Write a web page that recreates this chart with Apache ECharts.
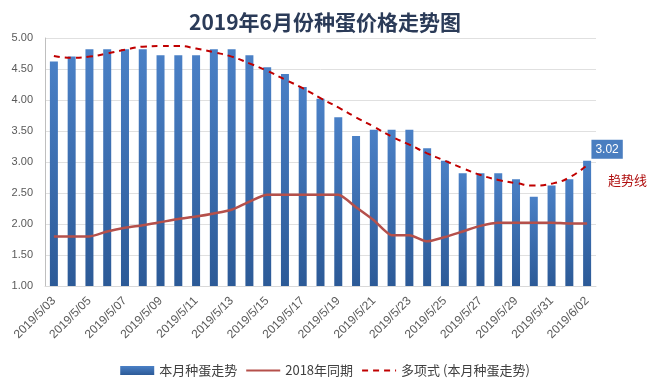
<!DOCTYPE html>
<html><head><meta charset="utf-8">
<script src="https://cdn.jsdelivr.net/npm/echarts@6/dist/echarts.min.js"></script>
<style>html,body{margin:0;padding:0;background:#fff}#c{width:650px;height:388px}</style>
</head><body><div id="c"></div>
<script>
const categories = ['2019/5/03','2019/5/04','2019/5/05','2019/5/06','2019/5/07','2019/5/08','2019/5/09','2019/5/10','2019/5/11','2019/5/12','2019/5/13','2019/5/14','2019/5/15','2019/5/16','2019/5/17','2019/5/18','2019/5/19','2019/5/20','2019/5/21','2019/5/22','2019/5/23','2019/5/24','2019/5/25','2019/5/26','2019/5/27','2019/5/28','2019/5/29','2019/5/30','2019/5/31','2019/6/01','2019/6/02'];
const thisMonth = [4.62,4.70,4.82,4.82,4.82,4.82,4.72,4.72,4.72,4.82,4.82,4.72,4.53,4.42,4.21,4.02,3.72,3.42,3.52,3.52,3.52,3.22,3.02,2.82,2.82,2.82,2.72,2.44,2.62,2.72,3.02];
const lastYear = [1.80,1.80,1.80,1.88,1.94,1.98,2.03,2.08,2.12,2.17,2.23,2.36,2.47,2.47,2.47,2.47,2.47,2.27,2.06,1.82,1.82,1.72,1.79,1.88,1.97,2.02,2.02,2.02,2.02,2.01,2.01];
const trend = [4.71,4.68,4.70,4.75,4.81,4.86,4.87,4.87,4.83,4.77,4.70,4.59,4.47,4.33,4.19,4.03,3.88,3.72,3.57,3.41,3.28,3.14,3.02,2.90,2.79,2.71,2.66,2.62,2.65,2.75,2.95];
const seriesNames = ['本月种蛋走势','2018年同期','多项式 (本月种蛋走势)'];

const chart = echarts.init(document.getElementById('c'));
const barData = thisMonth.map((v,i)=> i===thisMonth.length-1 ? {
  value: v,
  label: {show:true, position:'top', distance:4, offset:[20,2], color:'#fff', fontSize:12,
    fontFamily:'Liberation Sans, Arial', backgroundColor:'#4a7ec0', padding:[4,4,3,4],
    formatter: p=>p.value.toFixed(2)}
} : v);
chart.setOption({
  animation:false,
  title:{text:'2019年6月份种蛋价格走势图', left:'center', top:7,
    textStyle:{fontSize:21, fontWeight:'bold', color:'#2b3b58', fontFamily:'Noto Sans CJK SC'}},
  grid:{left:45, right:54, top:38, bottom:102},
  legend:{bottom:6, left:'center', itemGap:8, itemWidth:34, itemHeight:9,
    textStyle:{fontSize:13, color:'#404040', fontFamily:'Noto Sans CJK SC'},
    data:[{name:seriesNames[0], icon:'rect'},
          {name:seriesNames[1], itemStyle:{opacity:0}},
          {name:seriesNames[2], itemStyle:{opacity:0}}]},
  xAxis:{type:'category', data:categories, boundaryGap:true,
    axisLine:{lineStyle:{color:'#d9d9d9'}}, axisTick:{show:false},
    axisLabel:{interval:1, rotate:45, fontSize:12, color:'#595959', margin:13, fontFamily:'Liberation Sans, Arial'}},
  yAxis:{type:'value', min:1, max:5, interval:0.5,
    axisLine:{show:true, lineStyle:{color:'#bfbfbf'}}, axisTick:{show:false},
    splitLine:{lineStyle:{color:'#e0e0e0'}},
    axisLabel:{formatter:v=>v.toFixed(2), fontSize:11, color:'#595959', margin:12, fontFamily:'Liberation Sans, Arial'}},
  graphic:[{type:'text', left:608, top:174, style:{text:'趋势线', fill:'#b01010', fontSize:13, fontFamily:'Noto Sans CJK SC'}}],
  series:[
    {name:seriesNames[0], type:'bar', data:barData, barWidth:8,
      itemStyle:{color:new echarts.graphic.LinearGradient(0,0,0,1,[{offset:0,color:'#4a80c6'},{offset:1,color:'#2c5a97'}])}},
    {name:seriesNames[1], type:'line', data:lastYear, symbol:'none', smooth:0.2,
      lineStyle:{color:'#b5504b', width:2.5}, itemStyle:{color:'#b5504b'}},
    {name:seriesNames[2], type:'line', data:trend, symbol:'none', smooth:true,
      lineStyle:{color:'#c00000', width:2, type:[6,5]}, itemStyle:{color:'#c00000'}}
  ]
});
</script></body></html>
